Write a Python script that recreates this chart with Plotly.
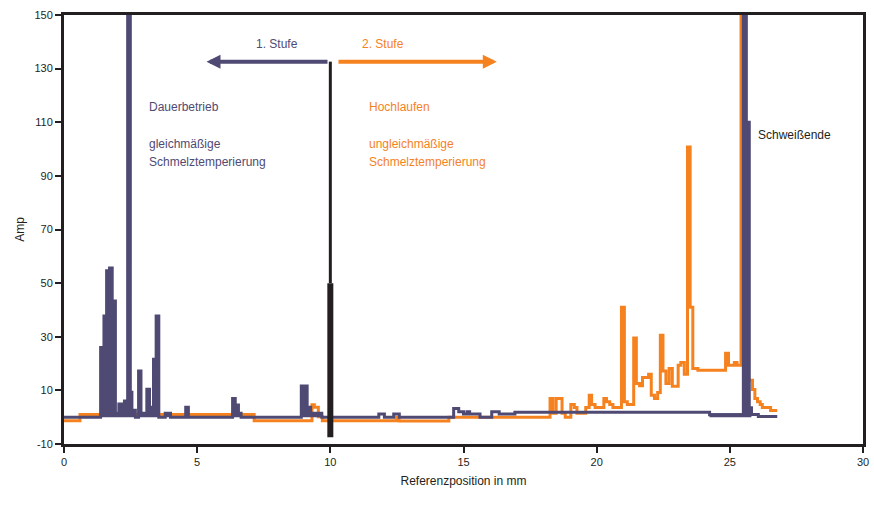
import plotly.graph_objects as go

# ---- data (mm, Amp) ----
purple_x = [0, 1.375, 1.50, 1.60, 1.71, 1.81, 1.93, 2.06, 2.27, 2.39, 2.49, 2.55, 2.68, 2.80, 2.89,
            3.11, 3.21, 3.36, 3.46, 3.56, 3.80, 4.00, 4.57, 4.67, 6.33, 6.43, 6.55, 6.65,
            8.91, 9.13, 9.26, 9.68, 10.0,
            11.82, 12.03, 12.38, 12.59, 14.63, 14.82, 15.0, 15.13, 15.23, 15.62, 16.06, 16.34,
            16.93, 24.24, 25.51, 25.62, 25.73, 25.81, 26.07, 26.78]
purple_y = [0, 26, 37.7, 54.6, 55.6, 43.3, 1.5, 4.9, 6, 160, 9.3, 2.6, 0, 17.2, 1.5,
            10.4, 3.7, 21.6, 37.7, 0, 1.5, 0, 3.7, 0, 7, 4.5, 1.5, 0,
            11.6, 3.7, 1.5, 0, 0,
            1.2, 0, 1.2, 0, 3.2, 2, 1.2, 2, 1.2, 0, 2, 1.2,
            1.8, 0.9, 160, 110, 3.4, 1.0, 0.3, 0.3]

orange_x = [0, 0.6, 7.14, 9.31, 9.40, 9.55, 9.70, 12.49, 12.58, 14.45, 18.25, 18.36, 18.48, 18.70,
            18.82, 19.03, 19.16, 19.26, 19.59, 19.72, 19.81, 19.94, 20.27, 20.37, 20.49, 20.61,
            20.93, 21.04, 21.15, 21.39, 21.49, 21.61, 21.72, 21.95, 22.05, 22.17, 22.29, 22.39,
            22.49, 22.60, 22.72, 22.84, 23.06, 23.16, 23.29, 23.41, 23.51, 23.61, 23.80, 24.84,
            24.95, 25.17, 25.27, 25.42, 25.52, 25.73, 25.85, 25.94, 26.04, 26.14, 26.22, 26.53, 26.78]
orange_y = [-1.3, 1.0, -1.3, 4.6, 3.7, 0.2, -1.3, 0, -1.4, 0, 7.0, 1.5, 7.0, 1.5,
            0, 4.7, 3.6, 1.5, 3.6, 8.2, 4.7, 3.6, 7.0, 5.8, 4.7, 3.6,
            41, 5.8, 4.7, 29.5, 12.6, 11.7, 14.8, 16, 8.2, 7.0, 9.2, 30.6,
            17.2, 12.6, 18.2, 11.5, 19.4, 20.4, 16, 100.8, 41, 18.2, 17.5, 23.8,
            19.4, 20.4, 19.4, 160, 14, 13.8, 10.3, 7, 5.8, 4.7, 3.6, 2.5, 2.5]

x_ticks = [0, 5, 10, 15, 20, 25, 30]
y_ticks = [-10, 10, 30, 50, 70, 90, 110, 130, 150]

split_x = 10.0            # change-over position
spike_x0, spike_x1 = 25.51, 25.81   # filled end spike
marker_top, marker_mid, marker_bot = 132.6, 50, -7.5

PURPLE = "#4f4a73"
ORANGE = "#f5821f"
BLACK = "#231f20"
FONT = "Liberation Sans, Arial, sans-serif"

k = purple_x.index(split_x)
s0 = purple_x.index(spike_x0)
s1 = purple_x.index(spike_x1)

fig = go.Figure()
fig.add_trace(go.Scatter(x=orange_x, y=orange_y, mode="lines", line=dict(color=ORANGE, width=3, shape="hv"),
                         showlegend=False, hoverinfo="skip"))
# purple: filled section, plain section, filled spike, plain tail
segments = [(0, k, True), (k, s0, False), (s0 - 1, s1, True), (s1 - 1, len(purple_x) - 1, False)]
for a, b, filled in segments:
    fig.add_trace(go.Scatter(x=purple_x[a:b + 1], y=purple_y[a:b + 1], mode="lines",
                             line=dict(color=PURPLE, width=3, shape="hv"),
                             fill="tozeroy" if filled else None, fillcolor=PURPLE,
                             showlegend=False, hoverinfo="skip"))

# change-over marker line
fig.add_shape(type="line", x0=split_x, x1=split_x, y0=marker_mid, y1=marker_top,
              line=dict(color=BLACK, width=3), layer="above")
fig.add_shape(type="line", x0=split_x, x1=split_x, y0=marker_bot, y1=marker_mid,
              line=dict(color=BLACK, width=6), layer="above")

ann = []
# arrows
ann.append(dict(x=5.35, y=marker_top, ax=split_x - 0.05, ay=marker_top, axref="x", ayref="y", xref="x", yref="y",
                text="", showarrow=True, arrowhead=2, arrowsize=0.7, arrowwidth=4, arrowcolor=PURPLE))
ann.append(dict(x=16.25, y=marker_top, ax=split_x + 0.25, ay=marker_top, axref="x", ayref="y", xref="x", yref="y",
                text="", showarrow=True, arrowhead=2, arrowsize=0.7, arrowwidth=4, arrowcolor=ORANGE))

def txt(x, y, s, color, anchor="left"):
    ann.append(dict(x=x, y=y, xref="x", yref="y", text=s, showarrow=False, xanchor=anchor, yanchor="middle",
                    font=dict(family=FONT, size=12, color=color)))

txt(7.99, 139, "1. Stufe", PURPLE, "center")
txt(11.97, 139, "2. Stufe", ORANGE, "center")
txt(3.1, 115.7, "Dauerbetrieb", PURPLE)
txt(3.1, 101.9, "gleichmäßige", PURPLE)
txt(3.1, 95.0, "Schmelztemperierung", PURPLE)
txt(11.38, 115.7, "Hochlaufen", ORANGE)
txt(11.38, 101.9, "ungleichmäßige", ORANGE)
txt(11.38, 95.0, "Schmelztemperierung", ORANGE)
txt(26.0, 105.2, "Schweißende", BLACK)

fig.update_layout(
    width=874, height=505, margin=dict(l=64, r=5, t=15, b=61),
    paper_bgcolor="white", plot_bgcolor="white",
    font=dict(family=FONT, size=11, color=BLACK),
    annotations=ann, showlegend=False,
)
fig.update_xaxes(range=[0, 30], tickvals=x_ticks, ticktext=[str(v) for v in x_ticks],
                 showgrid=False, zeroline=False, showline=True, linecolor=BLACK, linewidth=3, mirror=True,
                 ticks="outside", ticklen=6, tickwidth=2, tickcolor=BLACK,
                 title=dict(text="Referenzposition in mm", font=dict(size=12, color=BLACK), standoff=10))
fig.update_yaxes(range=[-10, 150], tickvals=y_ticks, ticktext=[str(v) for v in y_ticks],
                 showgrid=False, zeroline=False, showline=True, linecolor=BLACK, linewidth=3, mirror=True,
                 ticks="outside", ticklen=6, tickwidth=2, tickcolor=BLACK,
                 title=dict(text="Amp", font=dict(size=12, color=BLACK), standoff=8))

fig.write_html("out.html")
